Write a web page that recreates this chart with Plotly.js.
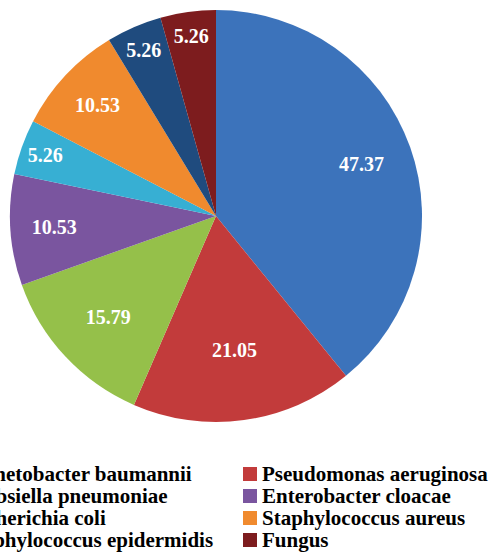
<!DOCTYPE html>
<html>
<head>
<meta charset="utf-8">
<script src="https://cdn.plot.ly/plotly-3.0.1.min.js"></script>
<style>
html,body{margin:0;padding:0;background:#fff;}
#chart{width:492px;height:554px;}
</style>
</head>
<body>
<div id="chart"></div>
<script>
var categories = [
  "Acinetobacter baumannii",
  "Pseudomonas aeruginosa",
  "Klebsiella pneumoniae",
  "Enterobacter cloacae",
  "Escherichia coli",
  "Staphylococcus aureus",
  "Staphylococcus epidermidis",
  "Fungus"
];
var values = [47.37, 21.05, 15.79, 10.53, 5.26, 10.53, 5.26, 5.26];
var colors = ["#3c73bb", "#c23b3b", "#95c04a", "#7a559f", "#37afd3", "#f08a2e", "#1f4b7e", "#7d1c1e"];
// which slices carry their label on the outer ring (Excel-like placement)
var ringLabel = [true, false, false, false, true, false, false, false];

var W = 492, H = 554;
var FONT = "'Liberation Serif', 'Times New Roman', 'DejaVu Serif', serif";
var dom = {x: [10 / W, 422 / W], y: [(H - 422) / H, (H - 10) / H]};

var trace = {
  type: "pie",
  labels: categories,
  values: values,
  sort: false,
  direction: "clockwise",
  rotation: 0,
  textposition: "inside",
  insidetextorientation: "horizontal",
  texttemplate: ringLabel.map(function (r) { return r ? "" : "<b>%{value:.2f}</b>"; }),
  hoverinfo: "label+value",
  marker: {colors: colors, line: {width: 0}},
  textfont: {family: FONT, size: 20, color: "#ffffff"},
  showlegend: false,
  domain: dom
};

var ringTrace = {
  type: "pie",
  labels: categories,
  values: values,
  sort: false,
  direction: "clockwise",
  rotation: 0,
  hole: 0.5,
  textposition: "inside",
  insidetextorientation: "horizontal",
  texttemplate: ringLabel.map(function (r) { return r ? "<b>%{value:.2f}</b>" : ""; }),
  hoverinfo: "skip",
  marker: {colors: colors.map(function () { return "rgba(0,0,0,0)"; }), line: {width: 0}},
  textfont: {family: FONT, size: 20, color: "#ffffff"},
  showlegend: false,
  domain: dom
};

// custom legend in two columns, built from the category and colour arrays
var annotations = [];
var shapes = [];
var colX = [-55, 243];     // square left edge (px) per column
var rowY0 = 474, rowDy = 22; // row centre (px from top)
categories.forEach(function (name, i) {
  var col = i % 2, row = Math.floor(i / 2);
  var cy = rowY0 + row * rowDy;
  var sx = colX[col];
  shapes.push({
    type: "rect", xref: "paper", yref: "paper",
    x0: sx / W, x1: (sx + 14) / W,
    y0: 1 - (cy + 7) / H, y1: 1 - (cy - 7) / H,
    fillcolor: colors[i], line: {width: 0}
  });
  annotations.push({
    xref: "paper", yref: "paper",
    x: (sx + 17) / W, y: 1 - cy / H,
    xanchor: "left", yanchor: "middle",
    text: "<b>" + name + "</b>", showarrow: false,
    font: {family: FONT, size: 21, color: "#000000"}
  });
});

var layout = {
  width: W, height: H,
  margin: {l: 0, r: 0, t: 0, b: 0, autoexpand: false},
  paper_bgcolor: "#ffffff",
  plot_bgcolor: "#ffffff",
  showlegend: false,
  annotations: annotations,
  shapes: shapes
};

Plotly.newPlot("chart", [trace, ringTrace], layout, {displayModeBar: false, staticPlot: true});
</script>
</body>
</html>
